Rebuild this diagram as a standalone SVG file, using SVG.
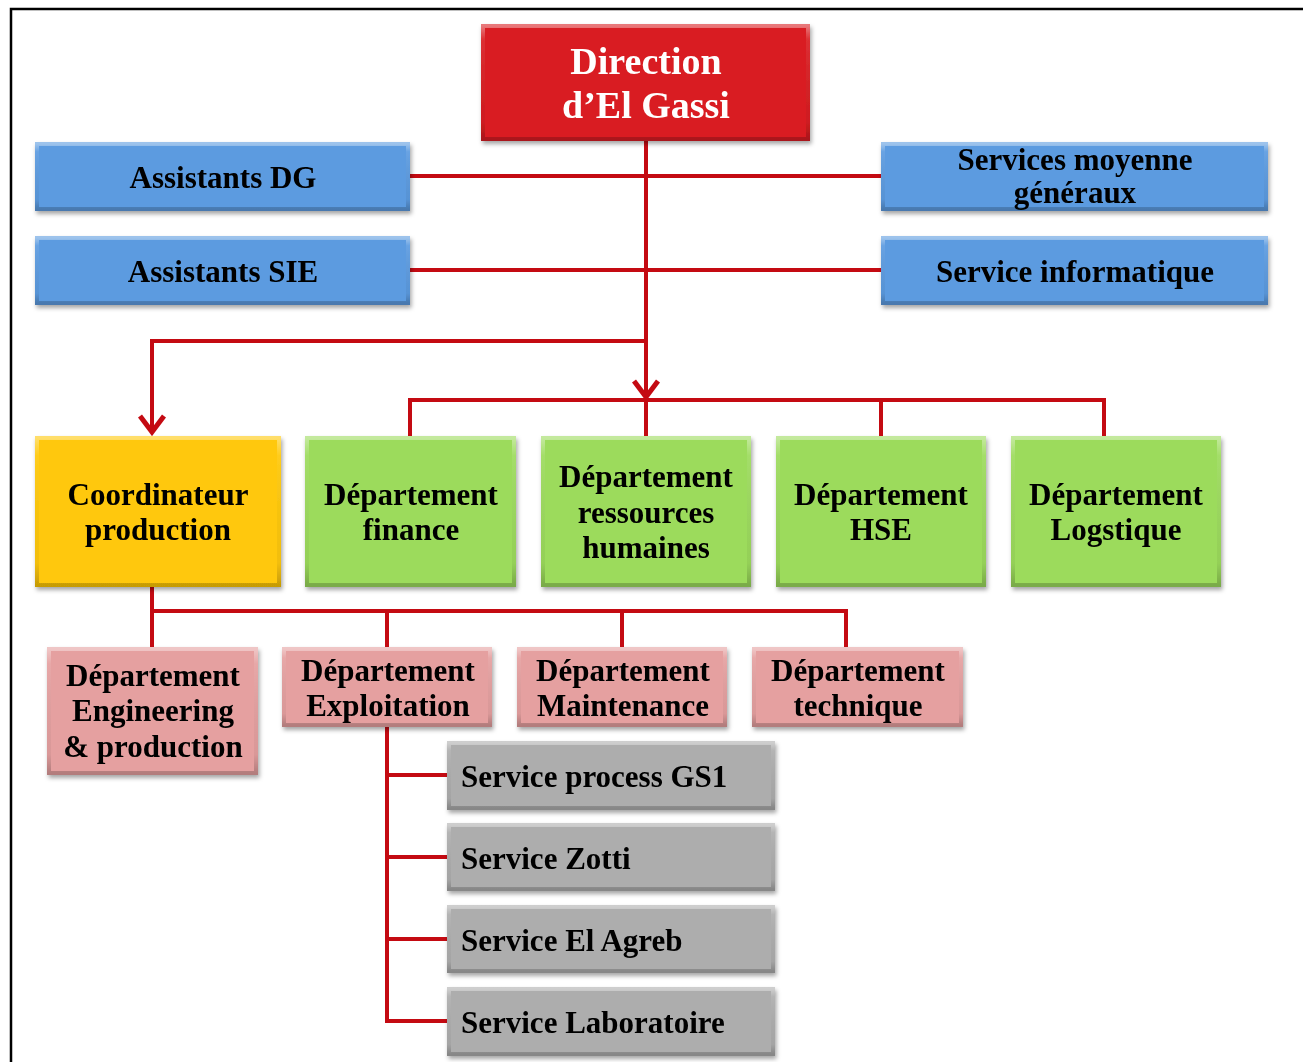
<svg xmlns="http://www.w3.org/2000/svg" width="1303" height="1062" viewBox="0 0 1303 1062">
<defs>
<filter id="sh" x="-10%" y="-10%" width="120%" height="130%">
<feDropShadow dx="1.5" dy="3" stdDeviation="2" flood-color="#000" flood-opacity="0.35"/>
</filter>
<linearGradient id="bev" x1="0" y1="0" x2="0" y2="1">
<stop offset="0" stop-color="#fff" stop-opacity="0.4"/>
<stop offset="0.12" stop-color="#fff" stop-opacity="0.08"/>
<stop offset="0.85" stop-color="#000" stop-opacity="0.05"/>
<stop offset="1" stop-color="#000" stop-opacity="0.22"/>
</linearGradient>
<marker id="chev" viewBox="0 0 22 28" refX="18" refY="14" markerWidth="22" markerHeight="28" markerUnits="userSpaceOnUse" orient="auto">
<path d="M2,2 L18,14 L2,26" fill="none" stroke="#C40A12" stroke-width="5" stroke-linejoin="miter"/>
</marker>
</defs>
<style>
.box{filter:url(#sh)}
.bv{fill:none;stroke:url(#bev);stroke-width:4}
.red{fill:#D91E22}
.blue{fill:#5C9BE0}
.yel{fill:#FFC808}
.grn{fill:#9CDB5C}
.pink{fill:#E5A0A0}
.gry{fill:#ADADAD}
text{font-family:"Liberation Serif","Times New Roman",serif;font-weight:bold;fill:#000;font-size:31px}
.c{text-anchor:middle}
.w{fill:#fff;font-size:38px}
.cn{fill:none;stroke:#C40A12;stroke-width:4;stroke-linejoin:miter}
</style>
<rect width="1303" height="1062" fill="#fff"/>
<path d="M11,1062 V9 H1303" fill="none" stroke="#000" stroke-width="2.5"/>

<g id="connectors">
<path class="cn" d="M410,176 H881"/>
<path class="cn" d="M410,270 H881"/>
<path class="cn" d="M646,141 V397" marker-end="url(#chev)"/>
<path class="cn" d="M646,397 V436"/>
<path class="cn" d="M646,341 H152 V432" marker-end="url(#chev)"/>
<path class="cn" d="M410,436 V400 H1104 V436"/>
<path class="cn" d="M881,400 V436"/>
<path class="cn" d="M152,587 V647"/>
<path class="cn" d="M152,611 H846 V647"/>
<path class="cn" d="M387,611 V647"/>
<path class="cn" d="M622,611 V647"/>
<path class="cn" d="M387,727 V1021 H447"/>
<path class="cn" d="M387,775 H447"/>
<path class="cn" d="M387,857 H447"/>
<path class="cn" d="M387,939 H447"/>
</g>

<g id="direction" class="box">
<rect class="red" x="481" y="24" width="329" height="117"/>
<rect class="bv" x="483" y="26" width="325" height="113"/>
<text class="c w" x="646" y="74">Direction</text>
<text class="c w" x="646" y="118">d’El Gassi</text>
</g>
<g id="assistants-dg" class="box">
<rect class="blue" x="35" y="142" width="375" height="69"/>
<rect class="bv" x="37" y="144" width="371" height="65"/>
<text class="c" x="223" y="188">Assistants DG</text>
</g>
<g id="assistants-sie" class="box">
<rect class="blue" x="35" y="236" width="375" height="69"/>
<rect class="bv" x="37" y="238" width="371" height="65"/>
<text class="c" x="223" y="282">Assistants SIE</text>
</g>
<g id="services-moyenne" class="box">
<rect class="blue" x="881" y="142" width="387" height="69"/>
<rect class="bv" x="883" y="144" width="383" height="65"/>
<text class="c" x="1075" y="170">Services moyenne</text>
<text class="c" x="1075" y="203">généraux</text>
</g>
<g id="service-informatique" class="box">
<rect class="blue" x="881" y="236" width="387" height="69"/>
<rect class="bv" x="883" y="238" width="383" height="65"/>
<text class="c" x="1075" y="282">Service informatique</text>
</g>

<g id="coordinateur" class="box">
<rect class="yel" x="35" y="436" width="246" height="151"/>
<rect class="bv" x="37" y="438" width="242" height="147"/>
<text class="c" x="158" y="505">Coordinateur</text>
<text class="c" x="158" y="540">production</text>
</g>
<g id="dep-finance" class="box">
<rect class="grn" x="305" y="436" width="211" height="151"/>
<rect class="bv" x="307" y="438" width="207" height="147"/>
<text class="c" x="411" y="505">Département</text>
<text class="c" x="411" y="540">finance</text>
</g>
<g id="dep-rh" class="box">
<rect class="grn" x="541" y="436" width="210" height="151"/>
<rect class="bv" x="543" y="438" width="206" height="147"/>
<text class="c" x="646" y="487">Département</text>
<text class="c" x="646" y="523">ressources</text>
<text class="c" x="646" y="558">humaines</text>
</g>
<g id="dep-hse" class="box">
<rect class="grn" x="776" y="436" width="210" height="151"/>
<rect class="bv" x="778" y="438" width="206" height="147"/>
<text class="c" x="881" y="505">Département</text>
<text class="c" x="881" y="540">HSE</text>
</g>
<g id="dep-logstique" class="box">
<rect class="grn" x="1011" y="436" width="210" height="151"/>
<rect class="bv" x="1013" y="438" width="206" height="147"/>
<text class="c" x="1116" y="505">Département</text>
<text class="c" x="1116" y="540">Logstique</text>
</g>

<g id="dep-engineering" class="box">
<rect class="pink" x="47" y="647" width="211" height="128"/>
<rect class="bv" x="49" y="649" width="207" height="124"/>
<text class="c" x="153" y="686">Département</text>
<text class="c" x="153" y="721">Engineering</text>
<text class="c" x="153" y="757">&amp; production</text>
</g>
<g id="dep-exploitation" class="box">
<rect class="pink" x="282" y="647" width="210" height="80"/>
<rect class="bv" x="284" y="649" width="206" height="76"/>
<text class="c" x="388" y="681">Département</text>
<text class="c" x="388" y="716">Exploitation</text>
</g>
<g id="dep-maintenance" class="box">
<rect class="pink" x="517" y="647" width="210" height="80"/>
<rect class="bv" x="519" y="649" width="206" height="76"/>
<text class="c" x="623" y="681">Département</text>
<text class="c" x="623" y="716">Maintenance</text>
</g>
<g id="dep-technique" class="box">
<rect class="pink" x="752" y="647" width="211" height="80"/>
<rect class="bv" x="754" y="649" width="207" height="76"/>
<text class="c" x="858" y="681">Département</text>
<text class="c" x="858" y="716">technique</text>
</g>

<g id="service-gs1" class="box">
<rect class="gry" x="447" y="741" width="328" height="69"/>
<rect class="bv" x="449" y="743" width="324" height="65"/>
<text x="461" y="787">Service process GS1</text>
</g>
<g id="service-zotti" class="box">
<rect class="gry" x="447" y="823" width="328" height="68"/>
<rect class="bv" x="449" y="825" width="324" height="64"/>
<text x="461" y="869">Service Zotti</text>
</g>
<g id="service-el-agreb" class="box">
<rect class="gry" x="447" y="905" width="328" height="68"/>
<rect class="bv" x="449" y="907" width="324" height="64"/>
<text x="461" y="951">Service El Agreb</text>
</g>
<g id="service-laboratoire" class="box">
<rect class="gry" x="447" y="987" width="328" height="69"/>
<rect class="bv" x="449" y="989" width="324" height="65"/>
<text x="461" y="1033">Service Laboratoire</text>
</g>
</svg>
